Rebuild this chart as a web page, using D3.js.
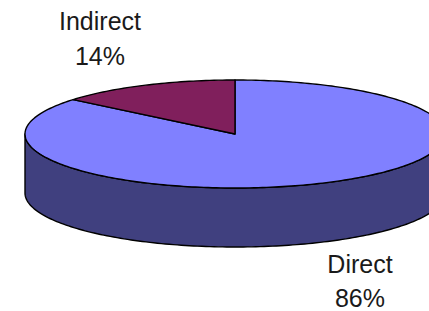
<!DOCTYPE html>
<html>
<head>
<meta charset="utf-8">
<script src="https://cdn.jsdelivr.net/npm/d3@7"></script>
<style>
  html, body { margin: 0; padding: 0; background: #fff; overflow: hidden; }
  text { font-family: "Liberation Sans", Arial, sans-serif; fill: #1a1a1a; }
</style>
</head>
<body>
<script>
// DATA
var categories = ["Direct", "Indirect"];
var values = [86, 14];
var labels = ["86%", "14%"];

var topColors = {Direct: "#8080ff", Indirect: "#801f5c"};
var sideColors = {Direct: "#40407f", Indirect: "#40102e"};

// svg
var svg = d3.select("body")
    .append("svg")
    .attr("width", 429)
    .attr("height", 311);

// ellipse geometry
const cx = 235, cy = 134, rx = 210, ry = 54, depth = 59;

// scales map unit circle onto the tilted ellipse
const xScale = d3.scaleLinear().domain([-1, 1]).range([cx - rx, cx + rx]);
const yScale = d3.scaleLinear().domain([-1, 1]).range([cy - ry, cy + ry]);

const pie = d3.pie().sort(null).value(d => d.value);
const slices = pie(categories.map((c, i) => ({name: c, value: values[i], label: labels[i]})));

function px(a) { return xScale(Math.sin(a)); }
function py(a, dz) { return yScale(-Math.cos(a)) + (dz || 0); }

function arcPoints(a0, a1, dz) {
    var n = Math.max(2, Math.ceil(Math.abs(a1 - a0) / 0.02));
    var pts = [];
    for (var i = 0; i <= n; i++) {
        var a = a0 + (a1 - a0) * i / n;
        pts.push([px(a), py(a, dz)]);
    }
    return pts;
}

const line = d3.line();

// side walls (front half only: pi/2 .. 3pi/2)
var sideGrp = svg.append("g");
slices.forEach(function(s) {
    var a0 = Math.max(s.startAngle, Math.PI / 2);
    var a1 = Math.min(s.endAngle, Math.PI * 3 / 2);
    if (a1 <= a0) return;
    var pts = arcPoints(a0, a1, 0).concat(arcPoints(a1, a0, depth));
    sideGrp.append("path")
        .attr("d", line(pts) + "Z")
        .attr("fill", sideColors[s.data.name])
        .attr("stroke", "#000")
        .attr("stroke-width", 1.4)
        .attr("stroke-linejoin", "round");
});

// top faces
var topGrp = svg.append("g");
slices.forEach(function(s) {
    var pts = [[xScale(0), yScale(0)]].concat(arcPoints(s.startAngle, s.endAngle, 0));
    topGrp.append("path")
        .attr("d", line(pts) + "Z")
        .attr("fill", topColors[s.data.name])
        .attr("stroke", "#000")
        .attr("stroke-width", 1.4)
        .attr("stroke-linejoin", "round");
});

// labels
var labelPos = {Indirect: [100, 30, 65], Direct: [360, 273, 307]};
slices.forEach(function(s) {
    var p = labelPos[s.data.name];
    var t = svg.append("text")
        .attr("text-anchor", "middle")
        .attr("font-size", 25);
    t.append("tspan").attr("x", p[0]).attr("y", p[1]).text(s.data.name);
    t.append("tspan").attr("x", p[0]).attr("y", p[2]).text(s.data.label);
});
</script>
</body>
</html>
